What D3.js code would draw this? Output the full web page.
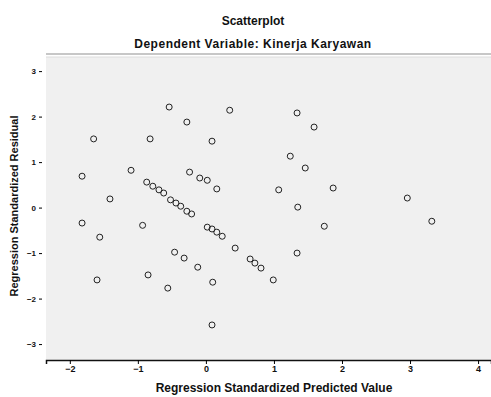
<!DOCTYPE html>
<html>
<head>
<meta charset="utf-8">
<script src="https://cdn.jsdelivr.net/npm/d3@7"></script>
<style>
  body { margin: 0; background: #fff; }
  svg text { font-family: "Liberation Sans", Arial, sans-serif; fill: #111; }
</style>
</head>
<body>
<svg id="chart" width="491" height="397"></svg>
<script>
  const titleText = "Scatterplot";
  const subtitleText = "Dependent Variable: Kinerja Karyawan";
  const xTitle = "Regression Standardized Predicted Value";
  const yTitle = "Regression Standardized Residual";

  const xTicks = [-2, -1, 0, 1, 2, 3, 4];
  const yTicks = [-3, -2, -1, 0, 1, 2, 3];

  // standardized predicted value
  const predicted = [
    -0.54, 0.35, -0.28, 1.34, 1.59, -1.65, -0.82, 0.09, 1.24, -1.82,
    -1.10, -0.24, -0.09, 0.02, 0.16, 1.07, 1.46, 1.87, -1.41, 1.35,
    2.96, 3.32, -1.82, -0.93, -1.56, 1.74, -0.46, -0.32, -0.12, 0.10,
    0.99, 1.34, -1.60, -0.85, -0.56, 0.09,
    -0.87, -0.78, -0.69, -0.62, -0.52, -0.44, -0.37, -0.28, -0.21,
    0.02, 0.09, 0.16, 0.24, 0.43, 0.65, 0.72, 0.81
  ];
  // standardized residual
  const residual = [
    2.21, 2.14, 1.88, 2.08, 1.77, 1.51, 1.51, 1.46, 1.13, 0.69,
    0.82, 0.78, 0.65, 0.60, 0.41, 0.39, 0.87, 0.43, 0.19, 0.01,
    0.21, -0.30, -0.34, -0.39, -0.65, -0.41, -0.98, -1.11, -1.31, -1.64,
    -1.59, -1.00, -1.59, -1.48, -1.77, -2.58,
    0.56, 0.47, 0.39, 0.32, 0.17, 0.10, 0.03, -0.08, -0.14,
    -0.43, -0.47, -0.54, -0.63, -0.89, -1.13, -1.22, -1.33
  ];

  (() => {
    const svg = d3.select("#chart");

    const plotLeft = 46, plotRight = 491, plotTop = 57, plotBottom = 360;

    const x = d3.scaleLinear().domain([-2.35, 4.19]).range([plotLeft, plotRight]);
    const y = d3.scaleLinear().domain([-3.35, 3.31]).range([plotBottom, plotTop]);

    // plot background
    svg.append("rect")
      .attr("x", plotLeft)
      .attr("y", plotTop)
      .attr("width", plotRight - plotLeft)
      .attr("height", plotBottom - plotTop)
      .attr("fill", "#f0f0f0");

    // top frame lines
    svg.append("line")
      .attr("x1", plotLeft).attr("x2", plotRight)
      .attr("y1", 54).attr("y2", 54)
      .attr("stroke", "#b4b4b4").attr("stroke-width", 1.5);
    svg.append("line")
      .attr("x1", plotLeft).attr("x2", plotRight)
      .attr("y1", 57).attr("y2", 57)
      .attr("stroke", "#dcdcdc").attr("stroke-width", 1);

    // titles
    svg.append("text")
      .attr("x", 253).attr("y", 25)
      .attr("text-anchor", "middle")
      .attr("font-size", "12px")
      .attr("font-weight", "bold")
      .text(titleText);

    svg.append("text")
      .attr("x", 253).attr("y", 48)
      .attr("text-anchor", "middle")
      .attr("font-size", "12px")
      .attr("font-weight", "bold")
      .attr("letter-spacing", "0.5px")
      .text(subtitleText);

    // x axis
    const xAxis = svg.append("g")
      .attr("transform", `translate(0,${plotBottom})`)
      .call(d3.axisBottom(x).tickValues(xTicks).tickSize(4).tickFormat(d3.format("d")));
    xAxis.select(".domain").attr("stroke", "#111").attr("stroke-width", 1.5);
    xAxis.selectAll("text").attr("font-size", "9px").attr("font-weight", "bold").attr("dy", "0.6em");

    // y axis (ticks and labels only)
    const yAxis = svg.append("g")
      .attr("transform", `translate(${plotLeft - 4},0)`)
      .call(d3.axisLeft(y).tickValues(yTicks).tickSize(3).tickFormat(d3.format("d")));
    yAxis.select(".domain").remove();
    yAxis.selectAll("text").attr("font-size", "8px").attr("font-weight", "bold");

    // axis titles
    svg.append("text")
      .attr("x", 274).attr("y", 392)
      .attr("text-anchor", "middle")
      .attr("font-size", "12px")
      .attr("font-weight", "bold")
      .text(xTitle);

    svg.append("text")
      .attr("transform", "translate(18,206) rotate(-90)")
      .attr("text-anchor", "middle")
      .attr("font-size", "11px")
      .attr("font-weight", "bold")
      .text(yTitle);

    // points
    svg.append("g")
      .selectAll("circle")
      .data(predicted.map((p, i) => ({ p, r: residual[i] })))
      .join("circle")
      .attr("cx", d => x(d.p))
      .attr("cy", d => y(d.r))
      .attr("r", 3)
      .attr("fill", "none")
      .attr("stroke", "#222")
      .attr("stroke-width", 1);
  })();
</script>
</body>
</html>
